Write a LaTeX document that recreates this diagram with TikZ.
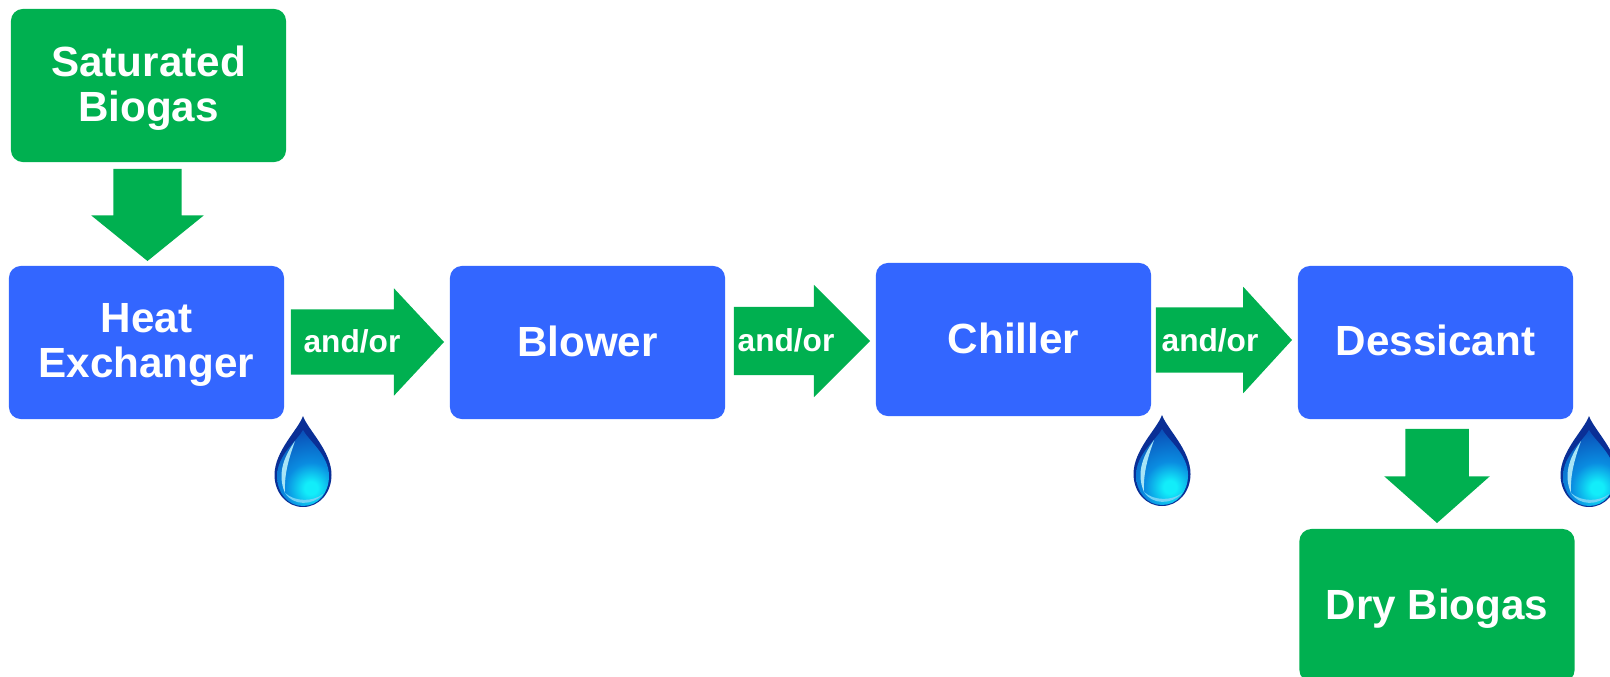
\documentclass[tikz,border=0pt]{standalone}
\usepackage{fontspec}
\setmainfont{Liberation Sans}
\usetikzlibrary{shapes.arrows}
\definecolor{gasgreen}{HTML}{00B050}
\definecolor{unitblue}{HTML}{3366FF}
\definecolor{dropdark}{HTML}{0A2F96}
\definecolor{droplight}{HTML}{A8E4F6}
\pgfdeclareradialshading{dropshade}{\pgfpointorigin}{rgb(0bp)=(0.07,0.93,0.98);rgb(2bp)=(0.07,0.93,0.98);rgb(8bp)=(0.04,0.55,0.88);rgb(18bp)=(0.04,0.31,0.72);rgb(50bp)=(0.04,0.31,0.72)}
\tikzset{
    box/.style={rounded corners=0.12cm,minimum width=2.75cm,minimum height=1.53cm,inner sep=0pt,
        align=center,text=white,font=\fontsize{12}{12.6}\selectfont\bfseries},
    gasbox/.style={box,fill=gasgreen},
    unitbox/.style={box,fill=unitblue},
    rightarrow/.style={single arrow,fill=gasgreen,anchor=tip,outer sep=0pt,inner xsep=0pt,single arrow head indent=0pt},
    downarrow/.style={rightarrow,inner ysep=0pt,shape border rotate=270},
    andor/.style={anchor=base,inner sep=0pt,text=white,font=\fontsize{9}{10}\selectfont\bfseries},
    waterdrop/.pic={
        \fill[dropdark] (0,0) .. controls (5,14) and (28.5,35) .. (28.5,59) .. controls (28.5,77) and (16,91) .. (0,91)
            .. controls (-16,91) and (-28.5,77) .. (-28.5,59) .. controls (-28.5,35) and (-5,14) .. (0,0) -- cycle;
        \begin{scope}
            \clip (0,14) .. controls (5,24) and (26,39) .. (26,60) .. controls (26,77) and (15,90) .. (0,90)
                .. controls (-15,90) and (-26,77) .. (-26,60) .. controls (-26,39) and (-5,24) .. (0,14) -- cycle;
            \shade[shading=dropshade] (8,72) circle (80);
        \end{scope}
        \fill[droplight] (-8,25) .. controls (-17,38) and (-27,56) .. (-18,77) .. controls (-19,58) and (-14,42) .. (-8,25) -- cycle;
        \fill[cyan!55!white] (-18,77) .. controls (-10,90) and (10,90) .. (20,78) .. controls (10,86) and (-8,86) .. (-18,77) -- cycle;
    }
}
\begin{document}
\begin{tikzpicture}[x=0.01cm,y=-0.01cm]
    \useasboundingbox (0,0) rectangle (1610,676);
    \clip (0,0) rectangle (1610,676);
    \node[gasbox,text height=22.8pt,text depth=2.5pt] (saturated) at (148.5,85.5) {Saturated\\Biogas};
    \node[unitbox,text height=22.2pt,text depth=2.5pt] (exchanger) at (146.5,342.5) {Heat\\Exchanger};
    \node[unitbox,text height=8.75pt,text depth=0.8pt] (blower) at (587.5,342.5) {Blower};
    \node[unitbox,text height=8.75pt,text depth=0.8pt] (chiller) at (1013.5,339.5) {Chiller};
    \node[unitbox,text height=8.75pt,text depth=1.3pt] (dessicant) at (1435.5,342.5) {Dessicant};
    \node[gasbox,text height=10.6pt,text depth=2.5pt] (dry) at (1437,605.5) {Dry Biogas};

    \node[downarrow,inner xsep=0.335cm,minimum height=0.92cm,single arrow head extend=0.22cm,single arrow tip angle=102] (feed) at (147.5,261) {};
    \node[rightarrow,inner ysep=0.32cm,minimum height=1.53cm,single arrow head extend=0.21cm,single arrow tip angle=94] (linka) at (444,342) {};
    \node[rightarrow,inner ysep=0.335cm,minimum height=1.36cm,single arrow head extend=0.22cm] (linkb) at (870,341) {};
    \node[rightarrow,inner ysep=0.32cm,minimum height=1.36cm,single arrow head extend=0.205cm,single arrow tip angle=95] (linkc) at (1292,340) {};
    \node[downarrow,inner xsep=0.31cm,minimum height=0.94cm,single arrow head extend=0.21cm,single arrow tip angle=97] (product) at (1437,523) {};

    \node[andor] (labela) at (352,352) {and/or};
    \node[andor] (labelb) at (786,351) {and/or};
    \node[andor] (labelc) at (1210,351) {and/or};

    \pic at (303,416) {waterdrop};
    \pic at (1162,415) {waterdrop};
    \pic at (1589,416) {waterdrop};
\end{tikzpicture}
\end{document}
